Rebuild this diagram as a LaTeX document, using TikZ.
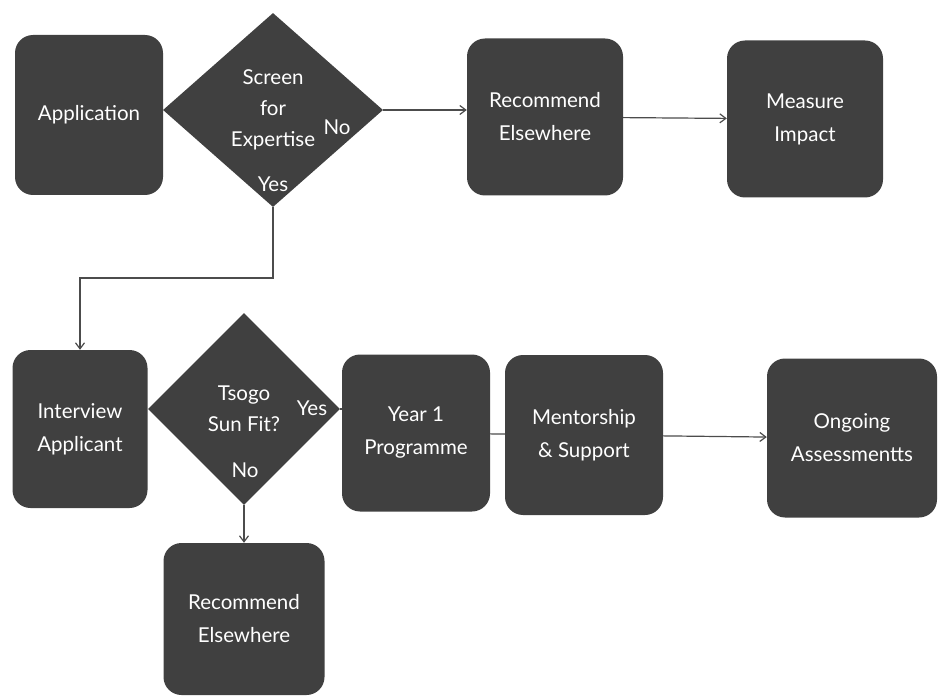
\documentclass[tikz,border=0pt]{standalone}
\usepackage{fontspec}
\setmainfont{Lato}
\usetikzlibrary{arrows.meta,shapes.geometric}

\begin{document}
\begin{tikzpicture}[->,>={Straight Barb[length=6pt,width=9pt]},x=1pt,y=-1pt,link/.style={draw=black!70,line width=1.2pt},every edge/.append style={link},
	box node/.style={rectangle,rounded corners=18pt,fill=black!75,text=white,align=center,inner sep=2pt,font=\fontsize{20.5}{33}\selectfont},
	choice node/.style={diamond,fill=black!75,text=white,align=center,inner sep=0pt,font=\fontsize{20.5}{31}\selectfont},
	answer node/.style={text=white,inner sep=1pt,font=\fontsize{20.5}{24}\selectfont}]

	\useasboundingbox (0,0) rectangle (938,698);

	%nodes, top row
	\node[box node, minimum width=148pt, minimum height=160pt] (App) at (89,115) {Application};
	\node[choice node, minimum width=220pt, minimum height=194pt] (Screen) at (273,110) {Screen \\ for \\ Expertise};
	\node[box node, minimum width=156pt, minimum height=157pt] (RecTop) at (545,117) {Recommend \\ Elsewhere};
	\node[box node, minimum width=156pt, minimum height=157pt] (Impact) at (805,119) {Measure \\ Impact};

	%nodes, bottom rows
	\node[box node, minimum width=135pt, minimum height=158pt] (Interview) at (80,429) {Interview \\ Applicant};
	\node[choice node, minimum width=192pt, minimum height=192pt] (Fit) at (244,409) {Tsogo \\ Sun Fit?};
	\node[box node, minimum width=148pt, minimum height=157pt] (Year) at (416,433) {Year 1 \\ Programme};
	\node[box node, minimum width=158pt, minimum height=160pt] (Mentor) at (584,435) {Mentorship \\ \& Support};
	\node[box node, minimum width=170pt, minimum height=159pt] (Ongoing) at (852,438) {Ongoing \\ Assessmentts};
	\node[box node, minimum width=161pt, minimum height=152pt] (RecLow) at (244,619) {Recommend \\ Elsewhere};

	%answers inside the diamonds
	\node[answer node] (ScreenNo) at (337,127) {No};
	\node[answer node] (ScreenYes) at (273,184) {Yes};
	\node[answer node] (FitYes) at (312,408) {Yes};
	\node[answer node] (FitNo) at (245,470) {No};

	\coordinate (Split) at (273,278);

	%edges off Screen
	\path
		(Screen.east) edge (Screen.east -| RecTop.west)
		(RecTop) edge (Impact);
	\draw[link] (Screen.south) -- (Split) -| (Interview.north);

	%edges off Fit
	\path
		(Fit.east) edge[-] (Fit.east -| Year.west)
		(Year) edge[-] (Mentor)
		(Mentor) edge (Ongoing)
		(Fit.south) edge (RecLow.north);

\end{tikzpicture}
\end{document}
